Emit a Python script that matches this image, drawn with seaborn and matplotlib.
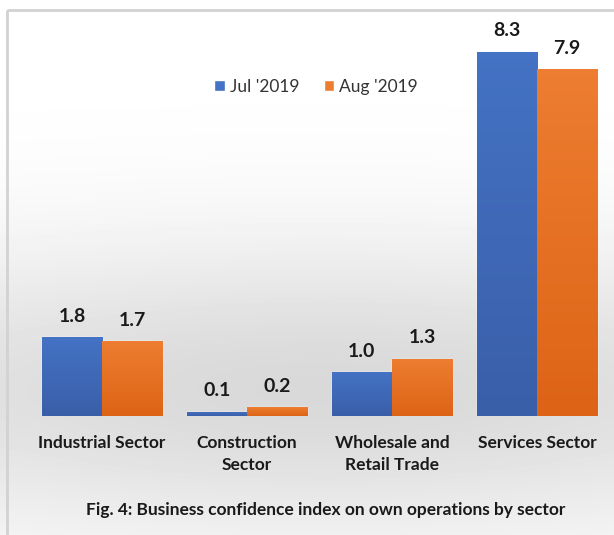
import numpy as np
import pandas as pd
import seaborn as sns
import matplotlib.pyplot as plt
from matplotlib.patches import Rectangle
from matplotlib.colors import LinearSegmentedColormap

sectors = ['Industrial Sector', 'Construction\nSector', 'Wholesale and\nRetail Trade', 'Services Sector']
months = ["Jul '2019", "Aug '2019"]
jul_vals = [1.8, 0.1, 1.0, 8.3]
aug_vals = [1.7, 0.2, 1.3, 7.9]

df = pd.DataFrame({
    'Sector': sectors * 2,
    'Month': [months[0]] * 4 + [months[1]] * 4,
    'Value': jul_vals + aug_vals,
})

sns.set_style('white')
plt.rcParams['font.family'] = ['Lato', 'DejaVu Sans']

fig = plt.figure(figsize=(6.14, 5.35), dpi=100)

# background: soft gray glow behind the bars
bg = fig.add_axes([0, 0, 1, 1], zorder=0)
yy, xx = np.mgrid[0:535, 0:614]
shade = np.exp(-((yy - 390) / 150.0) ** 2) * (0.6 + 0.4 * np.exp(-((xx - 320) / 400.0) ** 2))
img = 1 - 0.15 * shade
bg.imshow(img, cmap='gray', vmin=0, vmax=1, extent=[0, 614, 535, 0], aspect='auto')
bg.set_xlim(0, 614)
bg.set_ylim(535, 0)
bg.axis('off')
# frame
bg.add_patch(Rectangle((7, 10), 640, 560, fill=False, edgecolor='#d2d2d2', lw=2))

ax = fig.add_axes([29.5 / 614, 119 / 535, 580 / 614, 395 / 535], zorder=1)
ax.patch.set_alpha(0)

pal = {months[0]: '#4472C4', months[1]: '#ED7D31'}
sns.barplot(data=df, x='Sector', y='Value', hue='Month', palette=pal,
            width=0.83, gap=0, saturation=1, ax=ax, legend=True)

# darken bars towards the bottom
dark = {months[0]: '#3a5fa9', months[1]: '#dd6416'}
for cont, m in zip(ax.containers, months):
    cmap = LinearSegmentedColormap.from_list(m, [dark[m], pal[m]])
    for bar in cont:
        x0, y0 = bar.get_x(), bar.get_y()
        w, h = bar.get_width(), bar.get_height()
        grad = np.linspace(0, 1, 50).reshape(-1, 1)
        im = ax.imshow(grad, cmap=cmap, origin='lower', aspect='auto',
                       extent=[x0, x0 + w, y0, y0 + h], zorder=2)
        im.set_clip_path(bar)
    ax.bar_label(cont, fmt='%.1f', padding=9, fontsize=14, fontweight='bold', color='#1a1a1a')

ax.set_xlim(-0.5, 3.5)
ax.set_ylim(0, 9)
ax.set_xlabel('')
ax.set_ylabel('')
ax.set_yticks([])
ax.tick_params(axis='x', length=0, pad=14, labelsize=12.5)
for t in ax.get_xticklabels():
    t.set_fontweight('bold')
    t.set_color('#1a1a1a')
    t.set_linespacing(1.45)
sns.despine(ax=ax, left=True, bottom=True)

leg = ax.legend(loc='center', bbox_to_anchor=(0.494, 0.833), ncol=2, frameon=False,
                fontsize=12.5, handlelength=0.6, handleheight=0.6, handletextpad=0.3,
                columnspacing=1.4)
for t in leg.get_texts():
    t.set_color('#333333')

fig.text(326 / 614, (535 - 510) / 535, 'Fig. 4: Business confidence index on own operations by sector',
         ha='center', va='center', fontsize=12.5, fontweight='bold', color='#1a1a1a')

fig.savefig('out.png', dpi=100)
